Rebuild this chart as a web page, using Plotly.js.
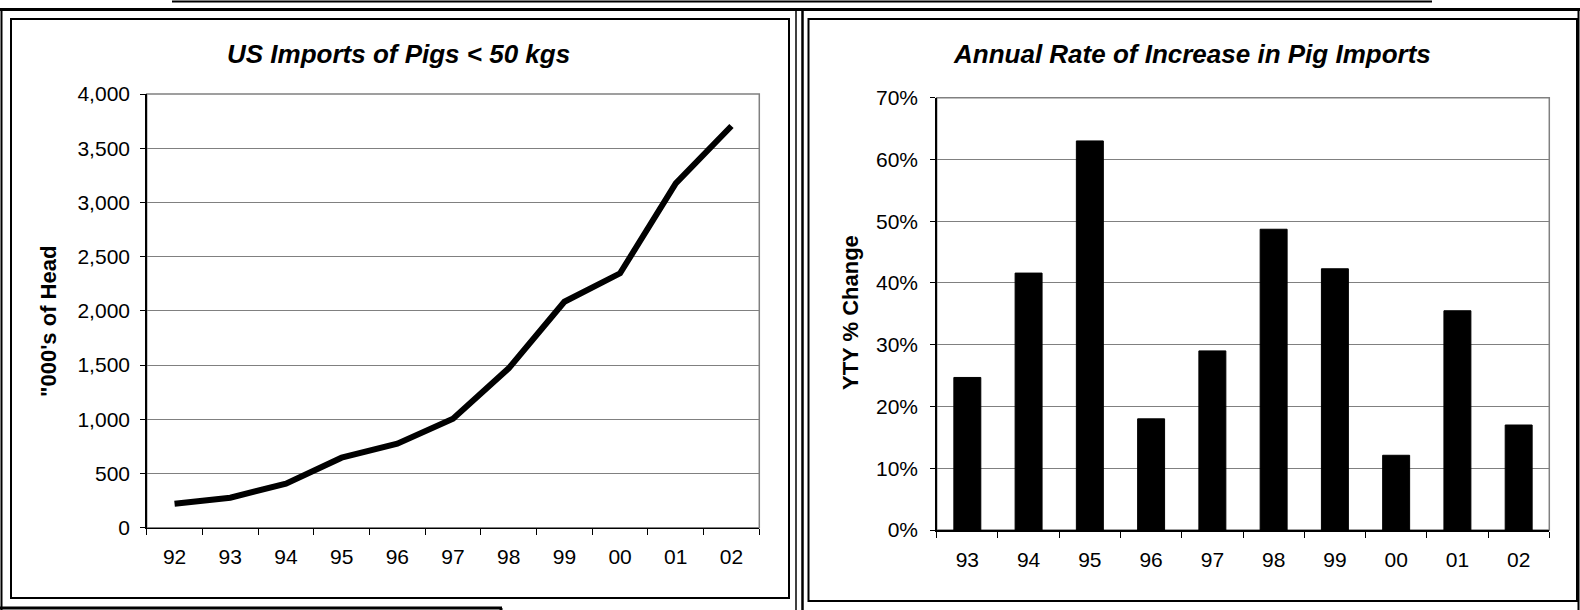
<!DOCTYPE html>
<html>
<head>
<meta charset="utf-8">
<script src="https://cdn.plot.ly/plotly-3.0.1.min.js"></script>
<style>
  html, body { margin: 0; padding: 0; background: #ffffff; }
  #chart { width: 1580px; height: 610px; }
</style>
</head>
<body>
<div id="chart"></div>
<script>
// Pig imports, thousands of head, by year
const years = ['92', '93', '94', '95', '96', '97', '98', '99', '00', '01', '02'];
const importsThousandHead = [221, 277, 406, 646, 775, 1005, 1470, 2084, 2346, 3176, 3705];

// Year-to-year change in imports, percent
const changeYears = ['93', '94', '95', '96', '97', '98', '99', '00', '01', '02'];
const changePct = [24.7, 41.6, 63.0, 18.0, 29.0, 48.7, 42.3, 12.1, 35.5, 17.0];

const leftTitle = 'US Imports of Pigs < 50 kgs';
const rightTitle = 'Annual Rate of Increase in Pig Imports';
const leftAxisTitle = '"000\'s of Head';
const rightAxisTitle = 'YTY % Change';

const W = 1580, H = 610;
const fx = x => x / W;
const fy = y => 1 - y / H;
const FONT = 'Liberation Sans, Arial, sans-serif';

// page frame lines, in pixels
function hline(x0, x1, y, w) {
  return { type: 'line', xref: 'paper', yref: 'paper', x0: fx(x0), x1: fx(x1), y0: fy(y), y1: fy(y),
           line: { color: '#000000', width: w }, layer: 'above' };
}
function vline(x, y0, y1, w) {
  return { type: 'line', xref: 'paper', yref: 'paper', x0: fx(x), x1: fx(x), y0: fy(y0), y1: fy(y1),
           line: { color: '#000000', width: w }, layer: 'above' };
}
function box(x0, y0, x1, y1, w) {
  return { type: 'rect', xref: 'paper', yref: 'paper', x0: fx(x0), x1: fx(x1), y0: fy(y1), y1: fy(y0),
           line: { color: '#000000', width: w }, fillcolor: 'rgba(0,0,0,0)', layer: 'below' };
}
// gray plot-area outline (top and right edges show over the axes)
function plotFrame(xr, yr) {
  return { type: 'rect', xref: xr + ' domain', yref: yr + ' domain', x0: 0, x1: 1, y0: 0, y1: 1,
           line: { color: '#808080', width: 1.5 }, fillcolor: 'rgba(0,0,0,0)', layer: 'below' };
}

const traces = [
  {
    type: 'scatter', mode: 'lines', x: years, y: importsThousandHead,
    xaxis: 'x', yaxis: 'y',
    line: { color: '#000000', width: 6 },
    hoverinfo: 'skip'
  },
  {
    type: 'bar', x: changeYears, y: changePct,
    xaxis: 'x2', yaxis: 'y2',
    marker: { color: '#000000', line: { color: '#000000', width: 1 } },
    hoverinfo: 'skip'
  }
];

const tickFont = { family: FONT, size: 21, color: '#000000' };

const catAxis = (dom, cats) => ({
  domain: dom, type: 'category', categoryorder: 'array', categoryarray: cats,
  range: [-0.5, cats.length - 0.5], fixedrange: true,
  showline: true, linecolor: '#000000', linewidth: 1.5,
  ticks: 'outside', tickson: 'boundaries', ticklen: 6, tickcolor: '#000000', tickwidth: 1,
  showgrid: false, zeroline: false, tickfont: tickFont, ticklabelstandoff: 10
});

const layout = {
  width: W, height: H,
  margin: { l: 0, r: 0, t: 0, b: 0 },
  paper_bgcolor: '#ffffff', plot_bgcolor: '#ffffff',
  showlegend: false,
  bargap: 0.56,
  xaxis: catAxis([fx(146.7), fx(759.3)], years),
  yaxis: {
    domain: [fy(527.7), fy(94)], anchor: 'x', range: [0, 4000], dtick: 500, tickformat: ',',
    fixedrange: true, showline: true, linecolor: '#000000', linewidth: 1.5,
    ticks: 'outside', ticklen: 5, tickcolor: '#000000', tickwidth: 1,
    showgrid: true, gridcolor: '#808080', gridwidth: 1, zeroline: false,
    tickfont: tickFont, ticklabelstandoff: 6
  },
  xaxis2: Object.assign(catAxis([fx(936.7), fx(1549.3)], changeYears), { anchor: 'y2' }),
  yaxis2: {
    domain: [fy(530), fy(97.7)], anchor: 'x2', range: [0, 70], dtick: 10, ticksuffix: '%',
    fixedrange: true, showline: true, linecolor: '#000000', linewidth: 1.5,
    ticks: 'outside', ticklen: 5, tickcolor: '#000000', tickwidth: 1,
    showgrid: true, gridcolor: '#808080', gridwidth: 1, zeroline: false,
    tickfont: tickFont, ticklabelstandoff: 8
  },
  annotations: [
    { text: leftTitle, xref: 'paper', yref: 'paper', x: fx(398), y: fy(54), showarrow: false,
      xanchor: 'center', yanchor: 'middle',
      font: { family: FONT, size: 26, color: '#000000', weight: 'bold', style: 'italic' } },
    { text: rightTitle, xref: 'paper', yref: 'paper', x: fx(1192), y: fy(54), showarrow: false,
      xanchor: 'center', yanchor: 'middle',
      font: { family: FONT, size: 26, color: '#000000', weight: 'bold', style: 'italic' } },
    { text: leftAxisTitle, xref: 'paper', yref: 'paper', x: fx(48), y: fy(322), showarrow: false,
      textangle: -90, xanchor: 'center', yanchor: 'middle',
      font: { family: FONT, size: 22, color: '#000000', weight: 'bold' } },
    { text: rightAxisTitle, xref: 'paper', yref: 'paper', x: fx(851), y: fy(313), showarrow: false,
      textangle: -90, xanchor: 'center', yanchor: 'middle',
      font: { family: FONT, size: 22, color: '#000000', weight: 'bold' } }
  ],
  shapes: [
    plotFrame('x', 'y'),
    plotFrame('x2', 'y2'),
    // thin rule across the top
    hline(172, 1432, 1.5, 2),
    // heavy outer frame line
    hline(0, 1580, 9.5, 3),
    vline(1.5, 9.5, 610, 2),
    vline(1578.5, 9.5, 610, 2),
    // divider between the two panels
    vline(796, 9.5, 610, 1.5),
    vline(802.5, 9.5, 610, 2.5),
    // chart boxes
    box(11, 19, 789, 598, 2),
    box(808.5, 19, 1577, 601, 2),
    // box below the left panel
    hline(0, 502, 608, 3),
    vline(501, 608, 610, 3)
  ]
};

Plotly.newPlot('chart', traces, layout, { staticPlot: true, displayModeBar: false });
</script>
</body>
</html>
